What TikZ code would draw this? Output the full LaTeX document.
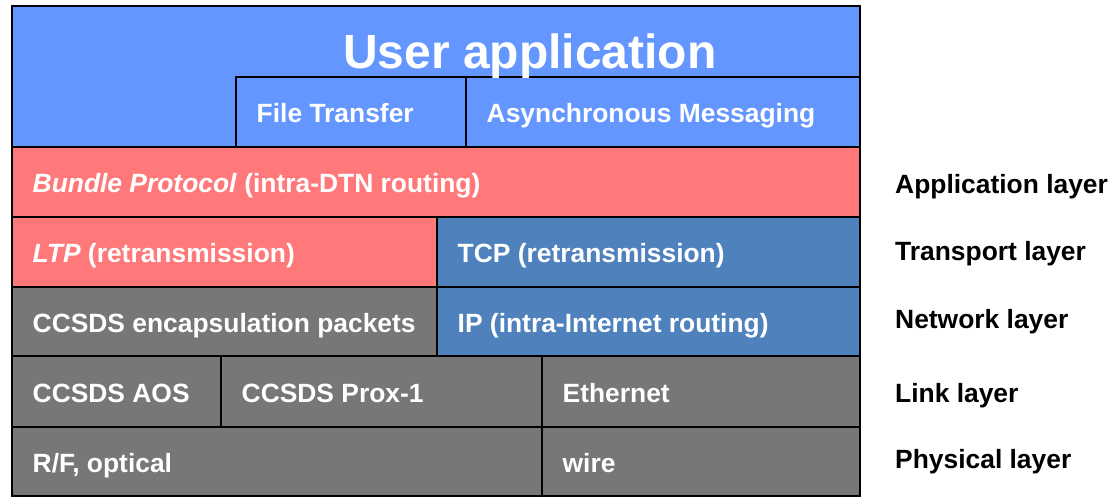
\documentclass[tikz,border=0pt]{standalone}
\usepackage{fontspec}
\setmainfont{Liberation Sans}
\definecolor{ublue}{RGB}{100,150,255}
\definecolor{pred}{RGB}{255,120,122}
\definecolor{sblue}{RGB}{79,129,189}
\definecolor{lgray}{RGB}{119,119,119}
\begin{document}
\begin{tikzpicture}[x=1pt,y=-1pt,
  box/.style={draw=black,line width=1.6pt,anchor=north west,inner sep=0pt,outer sep=0pt},
  txt/.style={anchor=base west,text=white,font=\fontsize{26.4}{30}\selectfont\bfseries,inner sep=0pt,xshift=20.5pt,yshift=-10.5pt},
  lay/.style={anchor=base west,text=black,font=\fontsize{26.4}{30}\selectfont\bfseries,inner sep=0pt}]
\useasboundingbox (0,0) rectangle (1117,497);
% boxes
\node[box,fill=ublue,minimum width=848pt,minimum height=141pt] (user) at (12,6) {};
\node[box,fill=ublue,minimum width=230pt,minimum height=70pt] (ft) at (236,77) {};
\node[box,fill=ublue,minimum width=394pt,minimum height=70pt] (am) at (466,77) {};
\node[box,fill=pred,minimum width=848pt,minimum height=70pt] (bp) at (12,147) {};
\node[box,fill=pred,minimum width=425pt,minimum height=70pt] (ltp) at (12,217) {};
\node[box,fill=sblue,minimum width=423pt,minimum height=70pt] (tcp) at (437,217) {};
\node[box,fill=lgray,minimum width=425pt,minimum height=69pt] (ccsds) at (12,287) {};
\node[box,fill=sblue,minimum width=423pt,minimum height=69pt] (ip) at (437,287) {};
\node[box,fill=lgray,minimum width=209pt,minimum height=71pt] (aos) at (12,356) {};
\node[box,fill=lgray,minimum width=321pt,minimum height=71pt] (prox) at (221,356) {};
\node[box,fill=lgray,minimum width=318pt,minimum height=71pt] (eth) at (542,356) {};
\node[box,fill=lgray,minimum width=530pt,minimum height=69pt] (rf) at (12,427) {};
\node[box,fill=lgray,minimum width=318pt,minimum height=69pt] (wire) at (542,427) {};
% texts
\node[anchor=base west,text=white,font=\fontsize{48}{52}\selectfont\bfseries,inner sep=0pt] (title) at (343,68.3) {User application};
\node[txt] (tft) at (ft.west) {File Transfer};
\node[txt] (tam) at (am.west) {Asynchronous Messaging};
\node[txt] (tbp) at (bp.west) {\textit{Bundle Protocol} (intra-DTN routing)};
\node[txt] (tltp) at (ltp.west) {\textit{LTP} (retransmission)};
\node[txt] (ttcp) at (tcp.west) {TCP (retransmission)};
\node[txt] (tccsds) at (ccsds.west) {CCSDS encapsulation packets};
\node[txt] (tip) at (ip.west) {IP (intra-Internet routing)};
\node[txt] (taos) at (aos.west) {CCSDS AOS};
\node[txt] (tprox) at (prox.west) {CCSDS Prox-1};
\node[txt] (teth) at (eth.west) {Ethernet};
\node[txt] (trf) at (rf.west) {R/F, optical};
\node[txt] (twire) at (wire.west) {wire};
% layer labels
\node[lay] (lapp) at (895,193.3) {Application layer};
\node[lay] (ltr) at (895,261) {Transport layer};
\node[lay] (lnet) at (895,328.3) {Network layer};
\node[lay] (llink) at (895,402.3) {Link layer};
\node[lay] (lphy) at (895,468.3) {Physical layer};
\end{tikzpicture}
\end{document}
